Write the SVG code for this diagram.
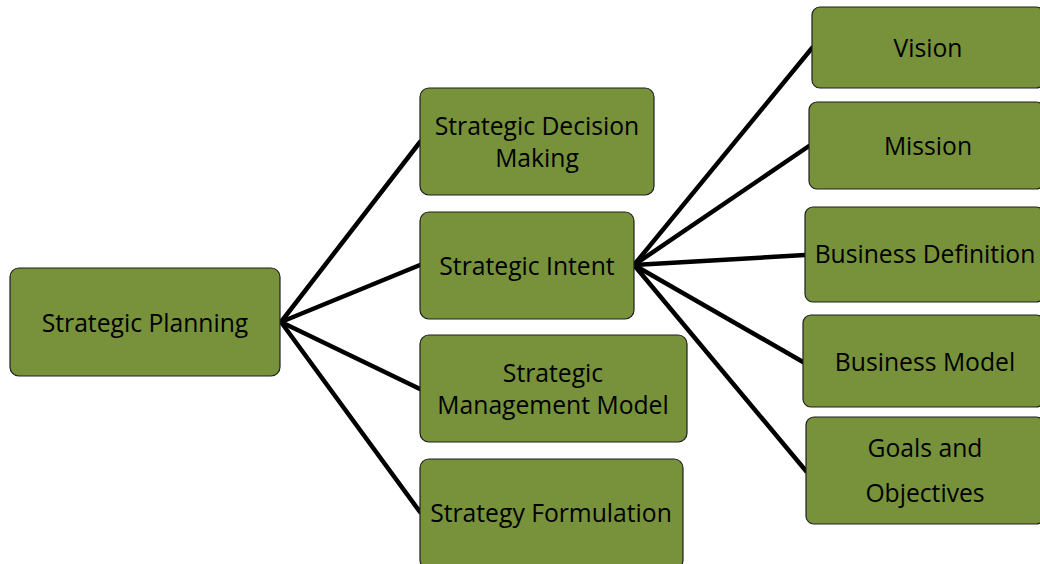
<svg xmlns="http://www.w3.org/2000/svg" width="1040" height="564" viewBox="0 0 1040 564">
<style>
.box{fill:#77923B;stroke:#1f1f1f;stroke-width:1.2}
.t{font-family:"Open Sans","Noto Sans",sans-serif;font-size:24.7px;fill:#000;text-anchor:middle}
.c line{stroke:#000;stroke-width:4.5;stroke-linecap:round}
</style>
<rect width="1040" height="564" fill="#fff"/>
<g class="c" id="connectors">
<line x1="281" y1="322" x2="420" y2="142"/>
<line x1="281" y1="322" x2="420" y2="265"/>
<line x1="281" y1="322" x2="420" y2="389"/>
<line x1="281" y1="322" x2="420" y2="512"/>
<line x1="634" y1="265" x2="812" y2="48"/>
<line x1="634" y1="265" x2="809" y2="146"/>
<line x1="634" y1="265" x2="805" y2="255"/>
<line x1="634" y1="265" x2="803" y2="362"/>
<line x1="634" y1="265" x2="806" y2="471"/>
</g>
<g id="n-planning"><rect class="box" x="10" y="268" width="270" height="108" rx="9"/><text class="t" x="145" y="332">Strategic Planning</text></g>
<g id="n-decision"><rect class="box" x="420" y="88" width="234" height="107" rx="9"/><text class="t" x="537" y="135">Strategic Decision</text><text class="t" x="537" y="167">Making</text></g>
<g id="n-intent"><rect class="box" x="420" y="212" width="214" height="107" rx="9"/><text class="t" x="527" y="275">Strategic Intent</text></g>
<g id="n-smm"><rect class="box" x="420" y="335" width="267" height="107" rx="9"/><text class="t" x="553" y="382">Strategic</text><text class="t" x="553" y="414">Management Model</text></g>
<g id="n-formulation"><rect class="box" x="420" y="459" width="263" height="110" rx="9"/><text class="t" x="551" y="522">Strategy Formulation</text></g>
<g id="n-vision"><rect class="box" x="812" y="7" width="232" height="81" rx="8"/><text class="t" x="928" y="57">Vision</text></g>
<g id="n-mission"><rect class="box" x="809" y="102" width="235" height="87" rx="8"/><text class="t" x="928" y="155">Mission</text></g>
<g id="n-busdef"><rect class="box" x="805" y="207" width="239" height="95" rx="8"/><text class="t" x="925" y="263">Business Definition</text></g>
<g id="n-busmodel"><rect class="box" x="803" y="315" width="241" height="92" rx="8"/><text class="t" x="925" y="371">Business Model</text></g>
<g id="n-goals"><rect class="box" x="806" y="417" width="238" height="107" rx="8"/><text class="t" x="925" y="457">Goals and</text><text class="t" x="925" y="502">Objectives</text></g>
</svg>
